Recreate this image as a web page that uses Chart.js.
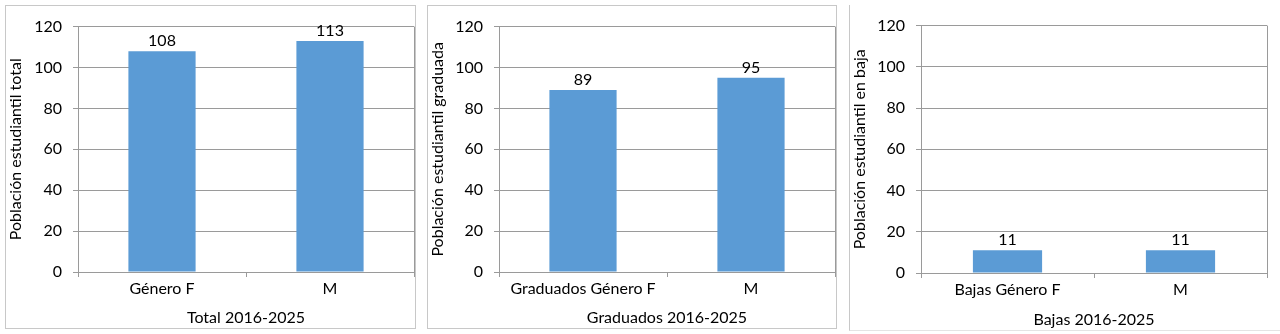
<!DOCTYPE html>
<html>
<head>
<meta charset="utf-8">
<script src="https://cdn.jsdelivr.net/npm/chart.js@4"></script>
<style>
    html, body { margin: 0; padding: 0; background: #fff; }
    body { width: 1280px; height: 334px; position: relative; overflow: hidden; }
    .panel { position: absolute; box-sizing: border-box; }
    .panel canvas { display: block; }
    #p1 { left: 5px; top: 5px; width: 411px; height: 324px; border: 1px solid #c8c8c8; }
    #p2 { left: 427px; top: 5px; width: 410px; height: 324px; border: 1px solid #c8c8c8; }
    #p3 { left: 849px; top: 5px; width: 431px; height: 326px; border-left: 1px solid #c8c8c8; border-bottom: 1px solid #e4e4e4; }
</style>
</head>
<body>
<div class="panel" id="p1"><canvas id="chart1" width="409" height="322"></canvas></div>
<div class="panel" id="p2"><canvas id="chart2" width="408" height="322"></canvas></div>
<div class="panel" id="p3"><canvas id="chart3" width="430" height="325"></canvas></div>
<script>
// Data
const totalLabels = ['Género F', 'M'];
const totalValues = [108, 113];
const graduadosLabels = ['Graduados Género F', 'M'];
const graduadosValues = [89, 95];
const bajasLabels = ['Bajas Género F', 'M'];
const bajasValues = [11, 11];
const yTicks = [0, 20, 40, 60, 80, 100, 120];

const FONT = 'Lato';
const FONT_SIZE = 16;
const BAR_COLOR = '#5b9bd5';
const GRID_COLOR = '#9a9a9a';
const TEXT_COLOR = '#000';

// Value labels above bars
const valueLabels = {
    id: 'valueLabels',
    afterDatasetsDraw(chart) {
        const ctx = chart.ctx;
        const meta = chart.getDatasetMeta(0);
        ctx.save();
        ctx.font = FONT_SIZE + 'px ' + FONT;
        ctx.fillStyle = TEXT_COLOR;
        ctx.textAlign = 'center';
        ctx.textBaseline = 'alphabetic';
        meta.data.forEach((bar, i) => {
            ctx.fillText(chart.data.datasets[0].data[i], bar.x, bar.y - 5);
        });
        ctx.restore();
    }
};

// Plot area right border
const plotBorder = {
    id: 'plotBorder',
    beforeDatasetsDraw(chart) {
        const a = chart.chartArea;
        const ctx = chart.ctx;
        ctx.save();
        ctx.strokeStyle = GRID_COLOR;
        ctx.lineWidth = 1;
        ctx.beginPath();
        ctx.moveTo(Math.round(a.right) + 0.5, a.top);
        ctx.lineTo(Math.round(a.right) + 0.5, a.bottom);
        ctx.stroke();
        ctx.restore();
    }
};

function makeChart(id, labels, values, xTitle, yTitle, box) {
    return new Chart(document.getElementById(id), {
        type: 'bar',
        data: {
            labels: labels,
            datasets: [{
                data: values,
                backgroundColor: BAR_COLOR,
                borderWidth: 0,
                barPercentage: 0.4,
                categoryPercentage: 1
            }]
        },
        options: {
            responsive: false,
            animation: false,
            events: [],
            layout: { padding: { top: box.top, right: box.right, left: 0, bottom: 0 } },
            plugins: { legend: { display: false }, tooltip: { enabled: false } },
            scales: {
                x: {
                    grid: { drawOnChartArea: false, color: GRID_COLOR, tickLength: 5, offset: true },
                    border: { color: GRID_COLOR },
                    ticks: { color: TEXT_COLOR, font: { family: FONT, size: FONT_SIZE }, padding: 2, maxRotation: 0 },
                    title: { display: true, text: xTitle, color: TEXT_COLOR, font: { family: FONT, size: FONT_SIZE }, padding: { top: 0, bottom: 1 } },
                    afterFit(scale) { scale.height = box.xh; }
                },
                y: {
                    min: 0,
                    max: 120,
                    afterBuildTicks(scale) { scale.ticks = yTicks.map(v => ({ value: v })); },
                    grid: { color: GRID_COLOR, tickLength: 5 },
                    border: { color: GRID_COLOR },
                    ticks: { color: TEXT_COLOR, font: { family: FONT, size: FONT_SIZE }, padding: 11 },
                    title: { display: true, text: yTitle, color: TEXT_COLOR, font: { family: FONT, size: FONT_SIZE }, padding: 0 },
                    afterFit(scale) { scale.width = box.yw; }
                }
            }
        },
        plugins: [plotBorder, valueLabels]
    });
}

makeChart('chart1', totalLabels, totalValues, 'Total 2016-2025', 'Población estudiantil total',
    { top: 18, right: 1, xh: 56, yw: 72 });
makeChart('chart2', graduadosLabels, graduadosValues, 'Graduados 2016-2025', 'Población estudiantil graduada',
    { top: 18, right: 1, xh: 56, yw: 71 });
makeChart('chart3', bajasLabels, bajasValues, 'Bajas 2016-2025', 'Población estudiantil en baja',
    { top: 20, right: 13, xh: 57, yw: 71 });
</script>
</body>
</html>
